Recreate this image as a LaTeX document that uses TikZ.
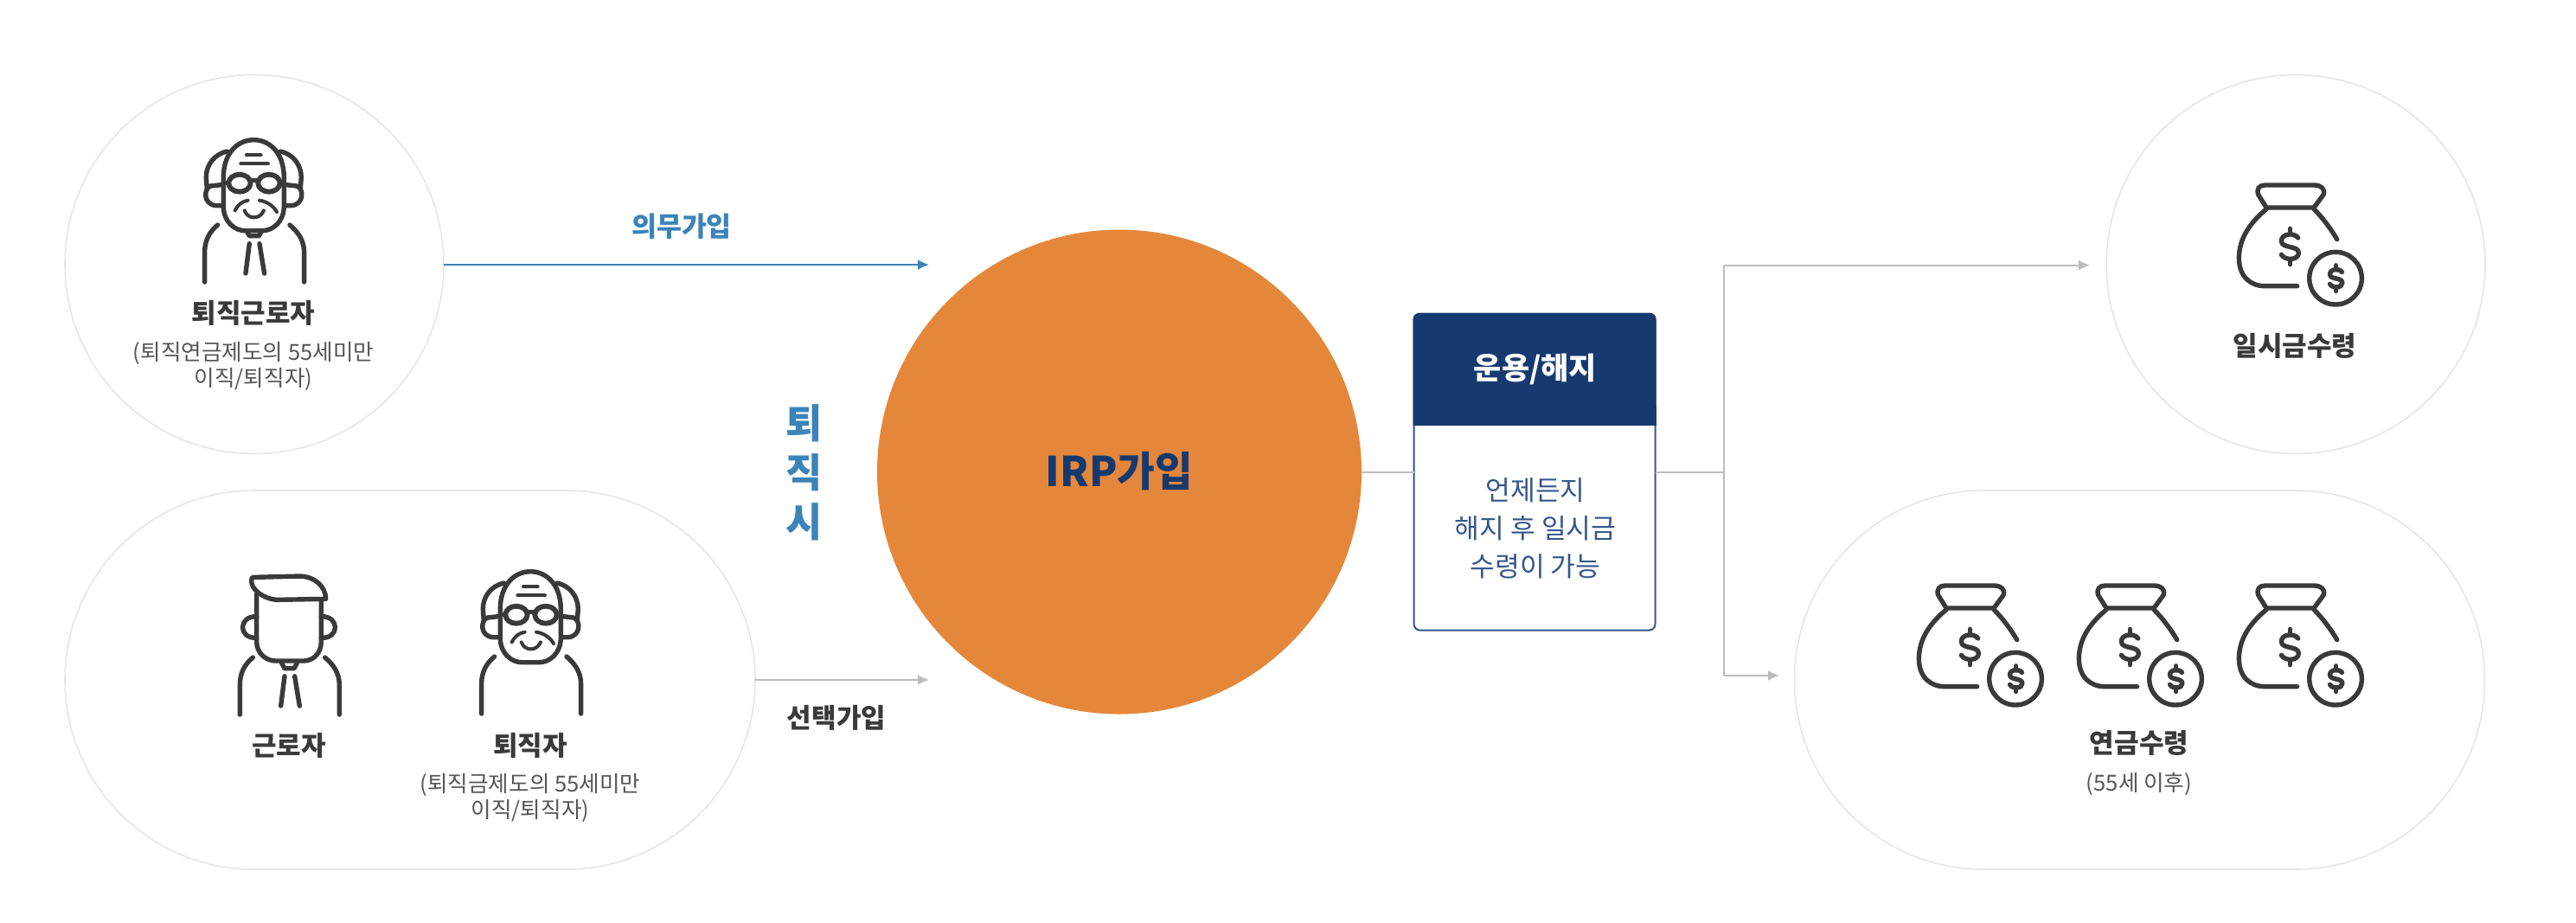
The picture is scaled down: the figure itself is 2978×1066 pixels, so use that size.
\documentclass[tikz,border=0pt]{standalone}
\usepackage{fontspec}
\setmainfont{Noto Sans CJK KR}
\usetikzlibrary{arrows.meta}
\definecolor{cOrange}{HTML}{E5873A}
\definecolor{cNavy}{HTML}{163A6F}
\definecolor{cNavyLine}{HTML}{35568C}
\definecolor{cBlue}{HTML}{3C83B8}
\definecolor{cGrey}{HTML}{BDBDBD}
\definecolor{cRing}{HTML}{E6E6E6}
\definecolor{cInk}{HTML}{3A3A3A}
\definecolor{cSub}{HTML}{555555}
\newcommand{\usdsign}[3]{%
  \begin{scope}[shift={(#1,#2)},scale=#3]
  \draw[iconline] (28,-30) .. controls (15,-50) and (-32,-45) .. (-30,-18) .. controls (-28,8) and (30,-5) .. (30,22) .. controls (30,48) and (-18,50) .. (-30,28);
  \draw[iconline] (0,-62) -- (0,-45) (0,45) -- (0,62);
  \end{scope}}
\tikzset{
  iconline/.style={draw=cInk,line width=5.4pt,line cap=round,line join=round},
  thinicon/.style={iconline,line width=4pt},
  ring/.style={draw=cRing,line width=1.6pt,fill=white,circle,minimum size=438pt,inner sep=0pt,outer sep=0pt},
  pill/.style={draw=cRing,line width=1.6pt,fill=white,rectangle,rounded corners=219pt,minimum width=798pt,minimum height=438pt,inner sep=0pt,outer sep=0pt},
  title/.style={font=\fontsize{31}{31}\selectfont\bfseries,text=cInk,inner sep=0pt},
  subtext/.style={font=\fontsize{25.6}{30}\selectfont,text=cSub,align=center,inner sep=0pt},
  bluelink/.style={draw=cBlue,line width=2pt,-{Latex[length=13pt,width=12pt]}},
  greylink/.style={draw=cGrey,line width=2pt,-{Latex[length=13pt,width=12pt]}},
  greyline/.style={draw=cGrey,line width=2pt},
  shoulders/.pic={
    \draw[iconline] (-125,70) .. controls (-155,95) and (-170,125) .. (-170,165) -- (-170,268);
    \draw[iconline] (125,70) .. controls (155,95) and (175,125) .. (175,165) -- (175,268);
  },
  necktie/.pic={
    \draw[iconline] (-25,90) -- (-15,108) -- (18,108) -- (28,90);
    \draw[iconline] (-15,135) -- (-28,238);
    \draw[iconline] (20,135) -- (37,238);
  },
  oldface/.pic={
    \draw[iconline] (-105,-95) .. controls (-105,-180) and (-55,-225) .. (0,-225) .. controls (55,-225) and (105,-180) .. (105,-95) -- (105,5) .. controls (105,60) and (65,90) .. (30,90) -- (-30,90) .. controls (-65,90) and (-105,60) .. (-105,5) -- cycle;
    \draw[iconline] (-92,-185) .. controls (-140,-175) and (-165,-135) .. (-165,-95) -- (-162,-55);
    \draw[iconline] (92,-185) .. controls (140,-175) and (165,-135) .. (165,-95) -- (162,-55);
    \draw[iconline] (-105,-70) -- (-150,-65) .. controls (-175,-55) and (-175,0) .. (-130,3) -- (-108,3);
    \draw[iconline] (105,-70) -- (150,-65) .. controls (175,-55) and (175,0) .. (130,3) -- (108,3);
    \draw[iconline,line width=5.8pt] (-49,-75) ellipse [x radius=38,y radius=30];
    \draw[iconline,line width=5.8pt] (53,-75) ellipse [x radius=38,y radius=30];
    \draw[iconline] (-11,-85) -- (15,-85) (-87,-75) -- (-105,-75) (91,-75) -- (105,-75);
    \draw[thinicon] (-25,-172) -- (25,-172) (-45,-142) -- (50,-142);
    \draw[thinicon] (-65,20) .. controls (-55,0) and (-40,-12) .. (-20,-15);
    \draw[thinicon] (20,-15) .. controls (45,-12) and (70,5) .. (80,25);
    \draw[thinicon] (-32,20) .. controls (-20,52) and (22,52) .. (35,20);
  },
  youngface/.pic={
    \draw[iconline] (-125,-208) -- (35,-212) .. controls (90,-212) and (128,-175) .. (128,-133) -- (-45,-130) .. controls (-90,-135) and (-130,-165) .. (-130,-195) .. controls (-130,-203) and (-128,-207) .. (-125,-208) -- cycle;
    \draw[iconline] (-112,-150) -- (-112,15) .. controls (-112,55) and (-80,82) .. (-45,82) -- (50,82) .. controls (85,82) and (112,55) .. (112,15) -- (112,-128);
    \draw[iconline] (-112,-72) .. controls (-175,-75) and (-178,5) .. (-112,2);
    \draw[iconline] (112,-72) .. controls (175,-75) and (178,5) .. (112,2);
  },
  moneybag/.pic={
    \draw[iconline] (-80,-120) -- (-108,-165) .. controls (-115,-185) and (-105,-198) .. (-85,-198) -- (85,-198) .. controls (110,-198) and (125,-185) .. (118,-165) -- (85,-120) -- cycle;
    \draw[iconline] (-80,-115) .. controls (-140,-65) and (-175,-10) .. (-175,55) .. controls (-175,120) and (-135,152) .. (-85,152) -- (27,152);
    \draw[iconline] (85,-115) .. controls (115,-85) and (145,-45) .. (165,-10);
    \draw[iconline] (160,125) circle [radius=91];
    \usdsign{2}{15}{1}
    \usdsign{162}{125}{.72}
  },
}
\begin{document}
\begin{tikzpicture}[x=1pt,y=-1pt]
\useasboundingbox (0,0) rectangle (2978,1066);
\fill[white] (0,0) rectangle (2978,1066);

\node[ring] (leftring) at (294,305.5) {};
\node[pill] (leftpill) at (474,786) {};
\node[ring] (rightring) at (2654,305.5) {};
\node[pill] (rightpill) at (2473.5,786) {};
\node[circle,fill=cOrange,minimum size=560pt,inner sep=0pt,outer sep=0pt] (irp) at (1294,545.5) {};
\node[font=\fontsize{47.5}{48}\selectfont\bfseries,text=cNavy,inner sep=0pt] (irplabel) at (1294,545) {IRP가입};

\node[draw=cNavyLine,line width=2pt,fill=white,rectangle,rounded corners=7pt,minimum width=279pt,minimum height=366pt,inner sep=0pt,outer sep=0pt] (box) at (1774,545.5) {};
\fill[cNavy,rounded corners=7pt] (1633.5,492) -- (1633.5,362) -- (1914.5,362) -- (1914.5,492) [sharp corners] -- cycle;
\fill[cNavy] (1633.5,470) rectangle (1914.5,492);
\node[font=\fontsize{35}{35}\selectfont\bfseries,text=white,inner sep=0pt] (boxhead) at (1775,427) {운용/해지};
\node[font=\fontsize{31.3}{44}\selectfont,text=cNavyLine,align=center,inner sep=0pt] (boxbody) at (1775,611) {언제든지\\해지 후 일시금\\수령이 가능};

\coordinate (endtop) at (1074,306);
\coordinate (endlow) at (1074,786);
\coordinate (jtop) at (1993,306.5);
\coordinate (jlow) at (1993,781);
\coordinate (endlump) at (2416,306.5);
\coordinate (endpens) at (2057,781);
\draw[bluelink] (leftring.east |- endtop) -- (endtop);
\draw[greylink] (leftpill.east) -- (endlow);
\draw[greyline] (irp.east) -- (box.west);
\draw[greyline] (box.east) -- (box.east -| jtop);
\draw[greyline] (jtop) -- (jlow);
\draw[greylink] (jtop) -- (endlump);
\draw[greylink] (jlow) -- (endpens);

\node[font=\fontsize{31.5}{32}\selectfont\bfseries,text=cBlue,inner sep=0pt] (mandatory) at (788,262) {의무가입};
\node[title] (optional) at (967,830) {선택가입};
\node[font=\fontsize{46}{57}\selectfont\bfseries,text=cBlue,align=center,inner sep=0pt] (onretire) at (930,546) {퇴\\직\\시};

\pic[scale=.3333] at (293.3,236.7) {oldface};
\pic[scale=.3333] at (293.3,236.7) {shoulders};
\pic[scale=.3333] at (293.3,236.7) {necktie};
\node[title] (t1) at (293,362) {퇴직근로자};
\node[subtext] (s1) at (293,423) {(퇴직연금제도의 55세미만\\이직/퇴직자)};

\pic[scale=.3333] at (334,736.7) {youngface};
\pic[scale=.3333] at (334,736.7) {shoulders};
\pic[scale=.3333] at (334,736.7) {necktie};
\node[title] (t2) at (334,862) {근로자};

\pic[scale=.3333] at (613.3,735.7) {oldface};
\pic[scale=.3333] at (613.3,735.7) {shoulders};
\node[title] (t3) at (613,862) {퇴직자};
\node[subtext] (s3) at (613,922) {(퇴직금제도의 55세미만\\이직/퇴직자)};

\pic[scale=.3333] at (2646.7,280) {moneybag};
\node[title] (t4) at (2653,400) {일시금수령};

\pic[scale=.3333] at (2276.7,743) {moneybag};
\pic[scale=.3333] at (2461.7,743) {moneybag};
\pic[scale=.3333] at (2646.7,743) {moneybag};
\node[title] (t5) at (2473,859) {연금수령};
\node[subtext] (s5) at (2473,906) {(55세 이후)};
\end{tikzpicture}
\end{document}
